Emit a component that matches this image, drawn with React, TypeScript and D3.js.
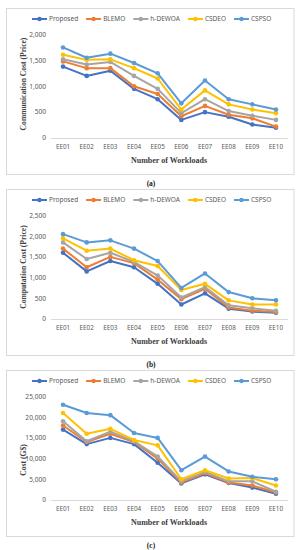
import * as d3 from "d3";
import React from "react";

const workloads = ["EE01", "EE02", "EE03", "EE04", "EE05", "EE06", "EE07", "EE08", "EE09", "EE10"];
const seriesNames = ["Proposed", "BLEMO", "h-DEWOA", "CSDEO", "CSPSO"];
const seriesColors = ["#4472C4", "#ED7D31", "#A5A5A5", "#FFC000", "#5B9BD5"];

// (a) communication cost
const commProposed = [1380, 1200, 1300, 950, 750, 350, 500, 410, 260, 200];
const commBlemo = [1480, 1350, 1350, 1000, 850, 420, 620, 450, 380, 220];
const commHdewoa = [1520, 1420, 1470, 1200, 950, 480, 750, 520, 430, 350];
const commCsdeo = [1610, 1510, 1520, 1350, 1150, 550, 920, 650, 550, 480];
const commCspso = [1750, 1550, 1630, 1450, 1250, 670, 1110, 750, 650, 550];
const commTicks = [0, 500, 1000, 1500, 2000];

// (b) computation cost
const compProposed = [1600, 1150, 1400, 1250, 850, 350, 620, 250, 180, 150];
const compBlemo = [1700, 1250, 1500, 1350, 950, 480, 730, 280, 200, 170];
const compHdewoa = [1850, 1450, 1600, 1380, 1050, 520, 770, 330, 260, 200];
const compCsdeo = [1950, 1650, 1700, 1420, 1280, 700, 850, 450, 350, 350];
const compCspso = [2050, 1850, 1900, 1700, 1400, 750, 1100, 650, 500, 450];
const compTicks = [0, 500, 1000, 1500, 2000, 2500];

// (c) cost in G$
const costProposed = [17000, 13500, 15000, 13500, 9000, 4000, 6200, 4100, 3000, 1500];
const costBlemo = [18000, 14000, 16000, 14000, 10000, 4200, 6500, 4200, 3500, 1800];
const costHdewoa = [19000, 14200, 16500, 14200, 10500, 4500, 6800, 4500, 4500, 2000];
const costCsdeo = [21000, 16000, 17200, 14500, 13200, 5000, 7200, 5200, 5300, 3500];
const costCspso = [23000, 21000, 20500, 16200, 15000, 7200, 10500, 6900, 5600, 5000];
const costTicks = [0, 5000, 10000, 15000, 20000, 25000];

const SANS = '"Noto Sans", sans-serif';
const SERIF = '"Liberation Serif", "Times New Roman", serif';
const fmt = d3.format(",");

let measureCtx: CanvasRenderingContext2D | null = null;
const textWidth = (s: string, font: string) => {
  if (!measureCtx) measureCtx = document.createElement("canvas").getContext("2d");
  if (!measureCtx) return s.length * 3.5;
  measureCtx.font = font;
  return measureCtx.measureText(s).width;
};

const Panel: React.FC<{
  top: number;
  series: number[][];
  ticks: number[];
  yTitle: string;
  yTitleY: number;
  caption: string;
}> = ({ top, series, ticks, yTitle, yTitleY, caption }) => {
  const x = d3.scaleBand<string>().domain(workloads).range([51.2, 287.8]);
  const y = d3
    .scaleLinear()
    .domain([0, ticks[ticks.length - 1]])
    .range([138, 34.5]);
  const cx = (c: string) => x(c)! + x.bandwidth() / 2;
  const pathGen = d3
    .line<number>()
    .x((_, i) => cx(workloads[i]))
    .y((d) => y(d));

  // legend layout
  let lx = 32;
  const legend = seriesNames.map((name, i) => {
    const item = { name, color: seriesColors[i], x: lx };
    lx += 17 + textWidth(name, `6.5px ${SANS}`) + 8;
    return item;
  });

  return (
    <g transform={`translate(0, ${top})`}>
      <rect x={6.5} y={8.5} width={287.5} height={166} fill="#fff" stroke="#d9d9d9" />
      {legend.map((l) => (
        <g key={l.name} transform={`translate(${l.x}, 19)`}>
          <line x1={0} x2={15} stroke={l.color} strokeWidth={2} />
          <circle cx={7.5} r={2.2} fill={l.color} />
          <text x={17} dy="0.35em" fontFamily={SANS} fontSize={6.5} fill="#595959">
            {l.name}
          </text>
        </g>
      ))}
      <line x1={51.2} x2={287.8} y1={y(0) + 0.5} y2={y(0) + 0.5} stroke="#d9d9d9" />
      {ticks.map((t) => (
        <text
          key={t}
          x={46}
          y={y(t)}
          dy="0.35em"
          textAnchor="end"
          fontFamily={SANS}
          fontSize={6.6}
          fill="#595959"
        >
          {fmt(t)}
        </text>
      ))}
      {workloads.map((c) => (
        <text
          key={c}
          x={cx(c)}
          y={147}
          dy="0.35em"
          textAnchor="middle"
          fontFamily={SANS}
          fontSize={6.3}
          fill="#595959"
        >
          {c}
        </text>
      ))}
      {series.map((vals, i) => (
        <g key={seriesNames[i]}>
          <path d={pathGen(vals)!} fill="none" stroke={seriesColors[i]} strokeWidth={2} strokeLinejoin="round" />
          {vals.map((v, j) => (
            <circle key={j} cx={cx(workloads[j])} cy={y(v)} r={2.3} fill={seriesColors[i]} />
          ))}
        </g>
      ))}
      <text
        transform={`translate(23.5, ${yTitleY}) rotate(-90)`}
        dy="0.35em"
        textAnchor="middle"
        fontFamily={SERIF}
        fontWeight="bold"
        fontSize={7.6}
        fill="#404040"
      >
        {yTitle}
      </text>
      <text
        x={169}
        y={160}
        dy="0.35em"
        textAnchor="middle"
        fontFamily={SERIF}
        fontWeight="bold"
        fontSize={8}
        fill="#404040"
      >
        Number of Workloads
      </text>
      <text
        x={151}
        y={183}
        dy="0.35em"
        textAnchor="middle"
        fontFamily={SERIF}
        fontWeight="bold"
        fontSize={7.5}
        fill="#222"
      >
        {caption}
      </text>
    </g>
  );
};

export default function App() {
  return (
    <svg
      width={302}
      height={550}
      style={{ position: "absolute", left: 0, top: 0, background: "#fff" }}
    >
      <Panel
        top={0}
        series={[commProposed, commBlemo, commHdewoa, commCsdeo, commCspso]}
        ticks={commTicks}
        yTitle="Communication Cost (Price)"
        yTitleY={84}
        caption="(a)"
      />
      <Panel
        top={181}
        series={[compProposed, compBlemo, compHdewoa, compCsdeo, compCspso]}
        ticks={compTicks}
        yTitle="Computation Cost (Price)"
        yTitleY={86}
        caption="(b)"
      />
      <Panel
        top={362}
        series={[costProposed, costBlemo, costHdewoa, costCsdeo, costCspso]}
        ticks={costTicks}
        yTitle="Cost (G$)"
        yTitleY={98}
        caption="(c)"
      />
    </svg>
  );
}
